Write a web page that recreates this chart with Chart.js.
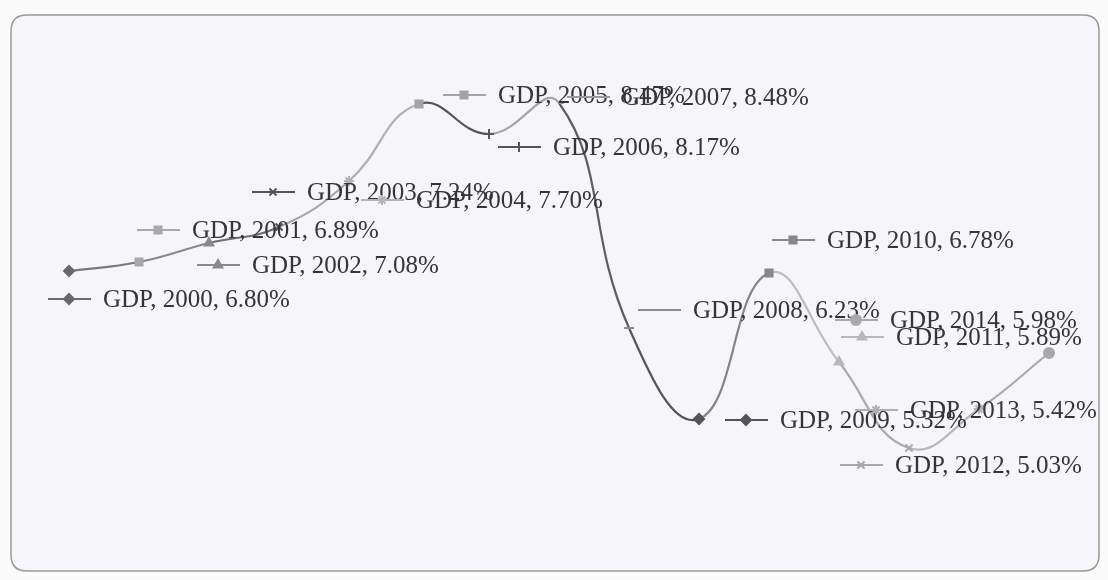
<!DOCTYPE html>
<html>
<head>
<meta charset="utf-8">
<script src="https://cdn.jsdelivr.net/npm/chart.js@4/dist/chart.umd.min.js"></script>
<style>
html,body{margin:0;padding:0;background:#f9f9fb;}
#wrap{width:1108px;height:580px;position:relative;}
</style>
</head>
<body>
<div id="wrap"><canvas id="c" width="1108" height="580"></canvas></div>
<script>
// ---- data ----
const years = ['2000','2001','2002','2003','2004','2005','2006','2007','2008','2009','2010','2011','2012','2013','2014'];
const gdpShare = [6.80, 6.89, 7.08, 7.24, 7.70, 8.47, 8.17, 8.48, 6.23, 5.32, 6.78, 5.89, 5.03, 5.42, 5.98];
const seriesName = 'GDP';

// ---- styles ----
const pointColors = ['#6a6a6a','#a8a8a8','#8a8a8a','#555555','#b4b4b4','#a4a4a4','#555555','#9a9a9a','#8c8c8c','#555555','#888888','#b8b8b8','#a8a8a8','#b0b0b0','#a8a8a8'];
const segColors   = ['#7a7a7a','#8a8a8a','#6e6e6e','#a8a8a8','#b0b0b0','#555555','#a6a6a6','#5e5e5e','#555555','#858585','#bdbdbd','#ababab','#b8b8b8','#aaaaaa'];
const pointStyles = ['rectRot','rect','triangle','crossRot','star','rect','cross','dash','line','rectRot','rect','triangle','crossRot','star','circle'];
// label offsets (legend-key start relative to the point)
const labelOffsets = [[-21,28],[-2,-32],[-12,22],[-27,-35],[12,19],[24,-9],[9,13],[8,-6],[9,-18],[26,1],[3,-33],[2,-25],[-69,17],[-124,1],[-214,-33]];

const framePlugin = {
  id:'frame',
  beforeDraw(chart){
    const c = chart.ctx;
    c.save();
    c.fillStyle = '#fbfbfc';
    c.fillRect(0,0,1108,580);
    const x=11,y=15,w=1088,h=556,r=16;
    c.beginPath();
    c.moveTo(x+r,y);c.lineTo(x+w-r,y);c.quadraticCurveTo(x+w,y,x+w,y+r);
    c.lineTo(x+w,y+h-r);c.quadraticCurveTo(x+w,y+h,x+w-r,y+h);
    c.lineTo(x+r,y+h);c.quadraticCurveTo(x,y+h,x,y+h-r);
    c.lineTo(x,y+r);c.quadraticCurveTo(x,y,x+r,y);c.closePath();
    c.fillStyle='#f6f6fa';c.fill();
    c.lineWidth=1.5;c.strokeStyle='#9a9a9a';c.stroke();
    c.restore();
  }
};

function drawMarker(c, style, x, y, color){
  c.save();
  c.strokeStyle=color;c.fillStyle=color;c.lineWidth=2;
  Chart.helpers.drawPoint(c,{pointStyle:style,radius:5,rotation:0,borderWidth:2},x,y);
  c.restore();
}

const labelPlugin = {
  id:'keyLabels',
  afterDatasetsDraw(chart){
    const c = chart.ctx;
    const meta = chart.getDatasetMeta(0);
    c.save();
    c.font = '25px "Liberation Serif", "Times New Roman", serif';
    c.textBaseline = 'middle';
    meta.data.forEach((pt,i)=>{
      const kx = pt.x + labelOffsets[i][0];
      const ky = pt.y + labelOffsets[i][1];
      const col = pointColors[i];
      c.strokeStyle = col; c.fillStyle = col; c.lineWidth = 2;
      c.beginPath(); c.moveTo(kx,ky); c.lineTo(kx+43,ky); c.stroke();
      drawMarker(c, pointStyles[i], kx+21, ky, col);
      c.fillStyle = '#353535';
      c.fillText(seriesName + ', ' + years[i] + ', ' + gdpShare[i].toFixed(2) + '%', kx+55, ky+1);
    });
    c.restore();
  }
};

new Chart(document.getElementById('c'), {
  type:'line',
  data:{
    labels: years,
    datasets:[{
      label: seriesName,
      data: gdpShare,
      tension: 0.45,
      borderWidth: 2.2,
      borderColor: '#777',
      segment:{ borderColor: ctx => segColors[ctx.p0DataIndex] },
      pointStyle: pointStyles,
      pointRadius: 5,
      pointBorderWidth: 2,
      pointBackgroundColor: pointColors,
      pointBorderColor: pointColors,
      clip: false
    }]
  },
  options:{
    responsive:false,
    animation:false,
    layout:{padding:{left:69,right:59,top:21,bottom:59}},
    plugins:{legend:{display:false},tooltip:{enabled:false}},
    scales:{
      x:{display:false,offset:false},
      y:{display:false,min:4.3,max:9.3}
    }
  },
  plugins:[framePlugin,labelPlugin]
});
</script>
</body>
</html>
